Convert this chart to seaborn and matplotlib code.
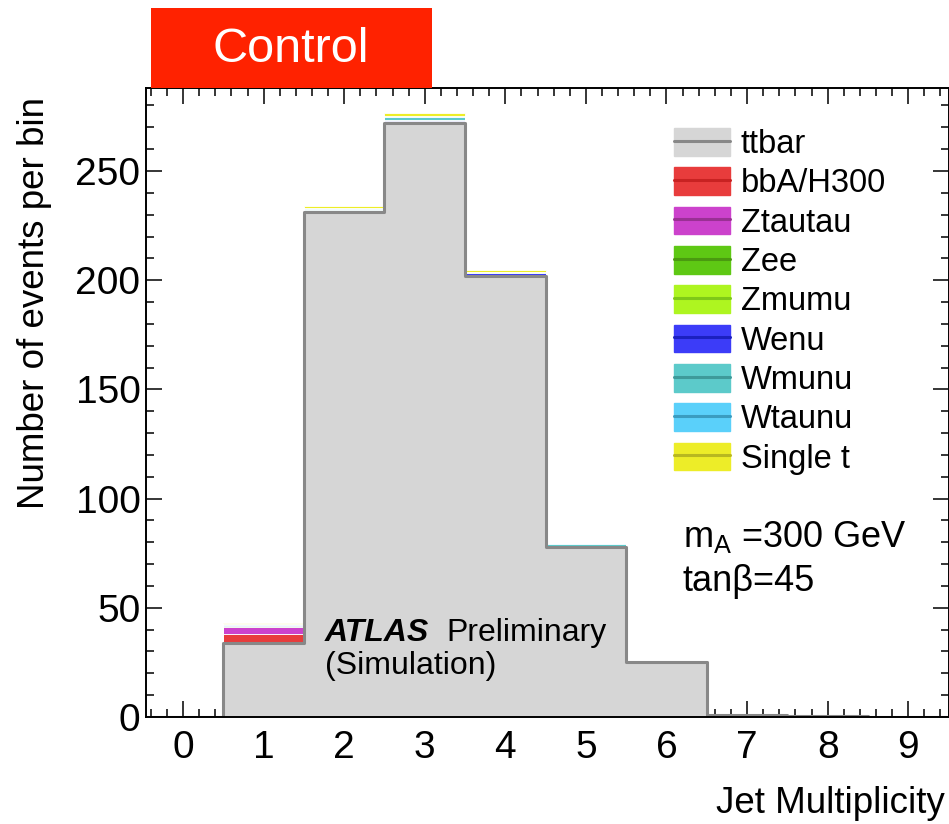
import numpy as np
import pandas as pd
import matplotlib
matplotlib.use("Agg")
import matplotlib.pyplot as plt
import seaborn as sns
from matplotlib.patches import Patch, Rectangle
from matplotlib.lines import Line2D
from matplotlib.ticker import MultipleLocator

# ---------------- data ----------------
jet_bins = [0, 1, 2, 3, 4, 5, 6, 7, 8, 9]
processes = ["ttbar", "bbA/H300", "Ztautau", "Zee", "Zmumu",
             "Wenu", "Wmunu", "Wtaunu", "Single t"]
ttbar    = [0, 34.0, 231.0, 272.0, 202.0, 78.0, 25.0, 1.0, 0.6, 0]
bbA      = [0, 4.0, 0.3, 0.3, 0.2, 0.1, 0, 0, 0, 0]
ztautau  = [0, 3.2, 0.3, 0.3, 0.2, 0.1, 0, 0, 0, 0]
zee      = [0, 0.3, 0.2, 0.2, 0.1, 0, 0, 0, 0, 0]
zmumu    = [0, 0.3, 0.2, 0.2, 0.1, 0, 0, 0, 0, 0]
wenu     = [0, 0.2, 0.3, 0.5, 0.8, 0.3, 0, 0, 0, 0]
wmunu    = [0, 0.2, 0.3, 1.0, 0.3, 0.6, 0, 0, 0, 0]
wtaunu   = [0, 0.2, 0.3, 0.8, 0.2, 0.4, 0, 0, 0, 0]
single_t = [0, 0.8, 1.3, 1.2, 0.6, 0.2, 0, 0, 0, 0]
series = [ttbar, bbA, ztautau, zee, zmumu, wenu, wmunu, wtaunu, single_t]

fill_colors = ["#d6d6d6", "#e83c3c", "#cc42cc", "#5ec814", "#aef520",
               "#3c3cf8", "#5ccaca", "#5ad0fa", "#eded28"]
line_colors = ["#888888", "#c82222", "#9a3094", "#4a9a10", "#7ec818",
               "#1c20c0", "#3e9a9a", "#3a9cc0", "#b8b820"]

# ---------------- style ----------------
sns.set_style("ticks")
plt.rcParams["font.family"] = ["Liberation Sans", "DejaVu Sans"]
plt.rcParams["text.color"] = "black"
plt.rcParams["axes.labelcolor"] = "black"
plt.rcParams["mathtext.fontset"] = "custom"
plt.rcParams["mathtext.rm"] = "Liberation Sans"
plt.rcParams["mathtext.it"] = "Liberation Sans:italic"

fig = plt.figure(figsize=(9.49, 8.24), dpi=100)
fig.patch.set_facecolor("white")
ax = fig.add_axes([146 / 949, 1 - 717 / 824, (948.5 - 146) / 949, (717 - 88) / 824])

df = pd.DataFrame({
    "njet": np.tile(jet_bins, len(processes)),
    "events": np.concatenate(series),
    "process": np.repeat(processes, len(jet_bins)),
})
palette = dict(zip(processes, fill_colors))

sns.histplot(data=df, x="njet", weights="events", hue="process",
             hue_order=processes[::-1], multiple="stack", discrete=True,
             element="step", palette=palette, alpha=1, linewidth=0.6,
             legend=False, ax=ax)
sns.histplot(data=df[df["process"] == "ttbar"], x="njet", weights="events",
             discrete=True, element="step", fill=False, color="#888888",
             linewidth=2.2, ax=ax)

ax.set_xlim(-0.46, 9.5)
ax.set_ylim(0, 288)
ax.xaxis.set_major_locator(MultipleLocator(1))
ax.xaxis.set_minor_locator(MultipleLocator(0.2))
ax.yaxis.set_major_locator(MultipleLocator(50))
ax.yaxis.set_minor_locator(MultipleLocator(10))
ax.tick_params(which="both", direction="in", top=True, right=True,
               colors="black", width=1.1)
ax.tick_params(which="major", length=11.5)
ax.tick_params(which="minor", length=5.8)
ax.tick_params(axis="x", labelsize=28, pad=9)
ax.tick_params(axis="y", labelsize=28, pad=4)
for s in ax.spines.values():
    s.set_linewidth(1.4)
    s.set_color("black")

ax.set_ylabel("Number of events per bin", fontsize=26.5, loc="top")
ax.yaxis.set_label_coords(-0.117, 0.985)
ax.set_xlabel("Jet Multiplicity", fontsize=26.5, loc="right")
ax.xaxis.set_label_coords(0.995, -0.11)

# legend
handles = [(Patch(facecolor=fc, edgecolor=fc), Line2D([], [], color=lc, lw=2.2))
           for fc, lc in zip(fill_colors, line_colors)]
ax.legend(handles, processes, loc="upper left",
          bbox_to_anchor=(674 / 949, 1 - 128 / 824), bbox_transform=fig.transFigure,
          frameon=False, fontsize=23.5, handlelength=1.72, handleheight=0.92,
          handletextpad=0.33, labelspacing=0.225, borderpad=0.0,
          borderaxespad=0.0)

# annotations
ax.text(6.2, 82.5, r"m$_\mathrm{A}$ =300 GeV", fontsize=26, va="center", ha="left")
ax.text(6.2, 62, "tanβ=45", fontsize=26, va="center", ha="left")
ax.text(1.76, 38.5, "ATLAS", fontsize=23, fontweight="bold", fontstyle="italic",
        va="center", ha="left")
ax.text(3.27, 38.5, "Preliminary", fontsize=23, va="center", ha="left")
ax.text(1.76, 23.5, "(Simulation)", fontsize=23, va="center", ha="left")

# "Control" box
fig.patches.append(Rectangle((151 / 949, 1 - 88 / 824), (432 - 151) / 949, 80 / 824,
                             transform=fig.transFigure, facecolor="#ff2200",
                             edgecolor="none", zorder=5))
fig.text(291 / 949, 1 - 50 / 824, "Control", color="white", fontsize=35,
         ha="center", va="center", zorder=6)

fig.savefig("out.png", dpi=100)
